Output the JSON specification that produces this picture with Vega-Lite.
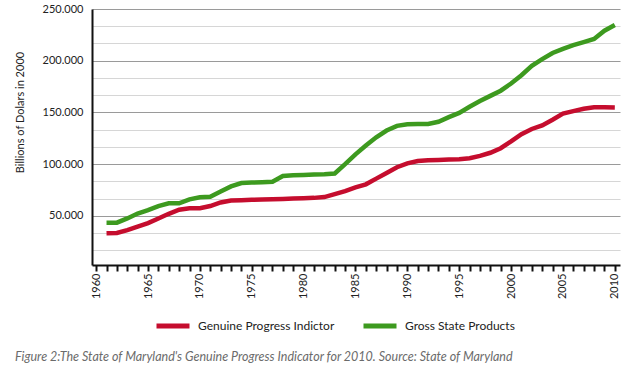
{
  "$schema": "https://vega.github.io/schema/vega-lite/v6.json",
  "autosize": {"type": "none"},
  "width": 528,
  "height": 256,
  "padding": {"left": 92, "top": 9, "right": 10, "bottom": 109},
  "background": "white",
  "title": {
    "text": "Figure 2:The State of Maryland's Genuine Progress Indicator for 2010.  Source: State of Maryland",
    "orient": "bottom",
    "anchor": "start",
    "frame": "group",
    "dx": -77,
    "offset": 15,
    "font": "Lato",
    "fontSize": 12.5,
    "fontStyle": "italic",
    "fontWeight": "normal",
    "color": "#6b6b6b"
  },
  "config": {
    "view": {"stroke": null},
    "font": "Lato"
  },
  "data": {
    "values": [
      {"year": 1961, "series": "Genuine Progress Indictor", "value": 33200},
      {"year": 1962, "series": "Genuine Progress Indictor", "value": 33400},
      {"year": 1963, "series": "Genuine Progress Indictor", "value": 36200},
      {"year": 1964, "series": "Genuine Progress Indictor", "value": 39500},
      {"year": 1965, "series": "Genuine Progress Indictor", "value": 43000},
      {"year": 1966, "series": "Genuine Progress Indictor", "value": 47500},
      {"year": 1967, "series": "Genuine Progress Indictor", "value": 52000},
      {"year": 1968, "series": "Genuine Progress Indictor", "value": 56000},
      {"year": 1969, "series": "Genuine Progress Indictor", "value": 57300},
      {"year": 1970, "series": "Genuine Progress Indictor", "value": 57400},
      {"year": 1971, "series": "Genuine Progress Indictor", "value": 59500},
      {"year": 1972, "series": "Genuine Progress Indictor", "value": 63000},
      {"year": 1973, "series": "Genuine Progress Indictor", "value": 64800},
      {"year": 1974, "series": "Genuine Progress Indictor", "value": 65200},
      {"year": 1975, "series": "Genuine Progress Indictor", "value": 65500},
      {"year": 1976, "series": "Genuine Progress Indictor", "value": 65800},
      {"year": 1977, "series": "Genuine Progress Indictor", "value": 66100},
      {"year": 1978, "series": "Genuine Progress Indictor", "value": 66400},
      {"year": 1979, "series": "Genuine Progress Indictor", "value": 66800},
      {"year": 1980, "series": "Genuine Progress Indictor", "value": 67100},
      {"year": 1981, "series": "Genuine Progress Indictor", "value": 67400},
      {"year": 1982, "series": "Genuine Progress Indictor", "value": 68200},
      {"year": 1983, "series": "Genuine Progress Indictor", "value": 71000},
      {"year": 1984, "series": "Genuine Progress Indictor", "value": 74000},
      {"year": 1985, "series": "Genuine Progress Indictor", "value": 77500},
      {"year": 1986, "series": "Genuine Progress Indictor", "value": 80500},
      {"year": 1987, "series": "Genuine Progress Indictor", "value": 86000},
      {"year": 1988, "series": "Genuine Progress Indictor", "value": 91500},
      {"year": 1989, "series": "Genuine Progress Indictor", "value": 97000},
      {"year": 1990, "series": "Genuine Progress Indictor", "value": 100700},
      {"year": 1991, "series": "Genuine Progress Indictor", "value": 103000},
      {"year": 1992, "series": "Genuine Progress Indictor", "value": 103700},
      {"year": 1993, "series": "Genuine Progress Indictor", "value": 104100},
      {"year": 1994, "series": "Genuine Progress Indictor", "value": 104500},
      {"year": 1995, "series": "Genuine Progress Indictor", "value": 104800},
      {"year": 1996, "series": "Genuine Progress Indictor", "value": 105800},
      {"year": 1997, "series": "Genuine Progress Indictor", "value": 108000},
      {"year": 1998, "series": "Genuine Progress Indictor", "value": 111000},
      {"year": 1999, "series": "Genuine Progress Indictor", "value": 115400},
      {"year": 2000, "series": "Genuine Progress Indictor", "value": 122000},
      {"year": 2001, "series": "Genuine Progress Indictor", "value": 129000},
      {"year": 2002, "series": "Genuine Progress Indictor", "value": 134000},
      {"year": 2003, "series": "Genuine Progress Indictor", "value": 137500},
      {"year": 2004, "series": "Genuine Progress Indictor", "value": 143000},
      {"year": 2005, "series": "Genuine Progress Indictor", "value": 148800},
      {"year": 2006, "series": "Genuine Progress Indictor", "value": 151300},
      {"year": 2007, "series": "Genuine Progress Indictor", "value": 153500},
      {"year": 2008, "series": "Genuine Progress Indictor", "value": 155000},
      {"year": 2009, "series": "Genuine Progress Indictor", "value": 155000},
      {"year": 2010, "series": "Genuine Progress Indictor", "value": 154800},
      {"year": 1961, "series": "Gross State Products", "value": 43400},
      {"year": 1962, "series": "Gross State Products", "value": 43400},
      {"year": 1963, "series": "Gross State Products", "value": 47500},
      {"year": 1964, "series": "Gross State Products", "value": 52300},
      {"year": 1965, "series": "Gross State Products", "value": 55500},
      {"year": 1966, "series": "Gross State Products", "value": 59500},
      {"year": 1967, "series": "Gross State Products", "value": 62200},
      {"year": 1968, "series": "Gross State Products", "value": 62200},
      {"year": 1969, "series": "Gross State Products", "value": 66000},
      {"year": 1970, "series": "Gross State Products", "value": 68000},
      {"year": 1971, "series": "Gross State Products", "value": 68500},
      {"year": 1972, "series": "Gross State Products", "value": 73500},
      {"year": 1973, "series": "Gross State Products", "value": 78500},
      {"year": 1974, "series": "Gross State Products", "value": 81700},
      {"year": 1975, "series": "Gross State Products", "value": 82200},
      {"year": 1976, "series": "Gross State Products", "value": 82600},
      {"year": 1977, "series": "Gross State Products", "value": 83000},
      {"year": 1978, "series": "Gross State Products", "value": 88500},
      {"year": 1979, "series": "Gross State Products", "value": 89200},
      {"year": 1980, "series": "Gross State Products", "value": 89600},
      {"year": 1981, "series": "Gross State Products", "value": 90000},
      {"year": 1982, "series": "Gross State Products", "value": 90300},
      {"year": 1983, "series": "Gross State Products", "value": 91000},
      {"year": 1984, "series": "Gross State Products", "value": 100000},
      {"year": 1985, "series": "Gross State Products", "value": 109500},
      {"year": 1986, "series": "Gross State Products", "value": 118000},
      {"year": 1987, "series": "Gross State Products", "value": 126000},
      {"year": 1988, "series": "Gross State Products", "value": 132500},
      {"year": 1989, "series": "Gross State Products", "value": 137000},
      {"year": 1990, "series": "Gross State Products", "value": 138600},
      {"year": 1991, "series": "Gross State Products", "value": 138700},
      {"year": 1992, "series": "Gross State Products", "value": 138900},
      {"year": 1993, "series": "Gross State Products", "value": 141000},
      {"year": 1994, "series": "Gross State Products", "value": 145500},
      {"year": 1995, "series": "Gross State Products", "value": 149500},
      {"year": 1996, "series": "Gross State Products", "value": 155500},
      {"year": 1997, "series": "Gross State Products", "value": 161000},
      {"year": 1998, "series": "Gross State Products", "value": 166000},
      {"year": 1999, "series": "Gross State Products", "value": 171000},
      {"year": 2000, "series": "Gross State Products", "value": 178000},
      {"year": 2001, "series": "Gross State Products", "value": 186000},
      {"year": 2002, "series": "Gross State Products", "value": 195000},
      {"year": 2003, "series": "Gross State Products", "value": 201500},
      {"year": 2004, "series": "Gross State Products", "value": 207500},
      {"year": 2005, "series": "Gross State Products", "value": 211500},
      {"year": 2006, "series": "Gross State Products", "value": 215000},
      {"year": 2007, "series": "Gross State Products", "value": 218000},
      {"year": 2008, "series": "Gross State Products", "value": 221000},
      {"year": 2009, "series": "Gross State Products", "value": 229000},
      {"year": 2010, "series": "Gross State Products", "value": 234500}
    ]
  },
  "mark": {"type": "line", "strokeWidth": 4.5},
  "encoding": {
    "x": {
      "field": "year",
      "type": "quantitative",
      "scale": {"domain": [1959.6, 2010.5], "nice": false, "zero": false},
      "axis": {
        "title": null,
        "values": [1960,1961,1962,1963,1964,1965,1966,1967,1968,1969,1970,1971,1972,1973,1974,1975,1976,1977,1978,1979,1980,1981,1982,1983,1984,1985,1986,1987,1988,1989,1990,1991,1992,1993,1994,1995,1996,1997,1998,1999,2000,2001,2002,2003,2004,2005,2006,2007,2008,2009,2010],
        "labelExpr": "datum.value % 5 === 0 ? '' + datum.value : ''",
        "labelAngle": -90,
        "labelFont": "Lato",
        "labelFontSize": 11,
        "labelColor": "#222",
        "labelPadding": 2,
        "labelOverlap": false,
        "labelFlush": false,
        "grid": false,
        "domainColor": "#111",
        "domainWidth": 2,
        "tickColor": "#111",
        "tickWidth": 2,
        "tickSize": 6
      }
    },
    "y": {
      "field": "value",
      "type": "quantitative",
      "scale": {"domain": [2500, 250000], "nice": false, "zero": false},
      "axis": {
        "title": "Billions of Dolars in 2000",
        "titleFont": "Lato",
        "titleFontSize": 11,
        "titleFontWeight": "normal",
        "titleColor": "#222",
        "titleAngle": -90,
        "titleAlign": "center",
        "titleBaseline": "middle",
        "titleX": -72,
        "titleY": 103,
        "values": [16666.667, 33333.333, 50000, 66666.667, 83333.333, 100000, 116666.667, 133333.333, 150000, 166666.667, 183333.333, 200000, 216666.667, 233333.333, 250000],
        "labelExpr": "datum.value % 50000 === 0 ? replace(format(datum.value, ','), ',', '.') : ''",
        "labelFont": "Lato",
        "labelFontSize": 11,
        "labelColor": "#222",
        "labelPadding": 9,
        "labelOverlap": false,
        "labelFlush": false,
        "ticks": false,
        "domainColor": "#111",
        "domainWidth": 2,
        "grid": true,
        "gridColor": {"condition": {"test": "datum.value % 50000 === 0", "value": "#9a9a9a"}, "value": "#d6d6d6"},
        "gridWidth": 1.2
      }
    },
    "color": {
      "field": "series",
      "type": "nominal",
      "scale": {"domain": ["Genuine Progress Indictor", "Gross State Products"], "range": ["#c50d2e", "#3d9a1f"]},
      "legend": {
        "title": null,
        "orient": "none",
        "direction": "horizontal",
        "legendX": 62,
        "legendY": 298,
        "symbolType": "stroke",
        "symbolSize": 1089,
        "symbolStrokeWidth": 5,
        "labelFont": "Lato",
        "labelFontSize": 12,
        "labelColor": "#222",
        "labelOffset": 6,
        "labelLimit": 400,
        "columnPadding": 18,
        "padding": 0
      }
    }
  }
}
